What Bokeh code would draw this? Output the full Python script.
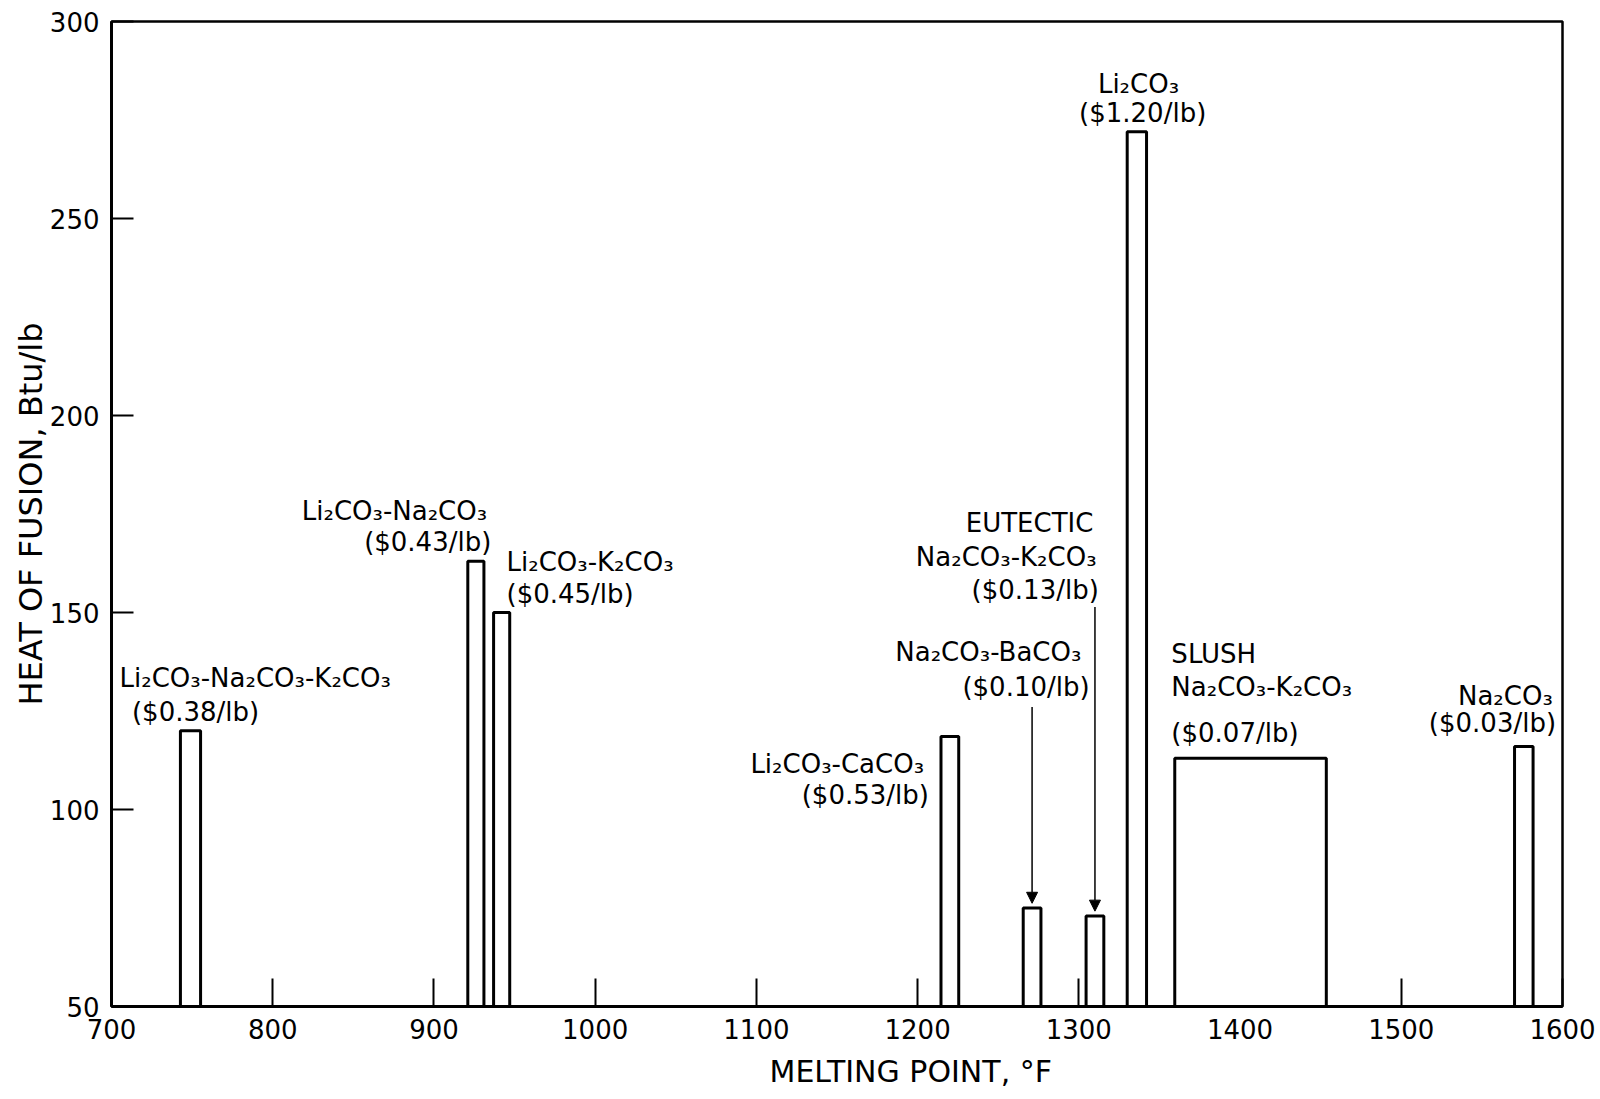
from bokeh.core.properties import value
from bokeh.embed import file_html
from bokeh.models import Arrow, ColumnDataSource, FixedTicker, NormalHead, Range1d, Title
from bokeh.plotting import figure
from bokeh.resources import INLINE

# ---- data: heat of fusion vs. melting point of carbonate salts ----
materials = [
    "Li₂CO₃-Na₂CO₃-K₂CO₃",
    "Li₂CO₃-Na₂CO₃",
    "Li₂CO₃-K₂CO₃",
    "Li₂CO₃-CaCO₃",
    "Na₂CO₃-BaCO₃",
    "EUTECTIC Na₂CO₃-K₂CO₃",
    "Li₂CO₃",
    "SLUSH Na₂CO₃-K₂CO₃",
    "Na₂CO₃",
]
melting_point_f = [749, 926, 942, 1220, 1271, 1310, 1336, 1406.5, 1576]
melting_span_f = [12.5, 10, 10, 11, 11, 11, 12, 94, 11.5]
heat_of_fusion = [120, 163, 150, 118.5, 75, 73, 272, 113, 116]
cost_per_lb = ["$0.38/lb", "$0.43/lb", "$0.45/lb", "$0.53/lb", "$0.10/lb",
               "$0.13/lb", "$1.20/lb", "$0.07/lb", "$0.03/lb"]

x_ticks = [700, 800, 900, 1000, 1100, 1200, 1300, 1400, 1500, 1600]
y_ticks = [50, 100, 150, 200, 250, 300]

FONT = "DejaVu Sans"
BASE = 50

p = figure(
    width=1600, height=1099,
    x_range=Range1d(700, 1600), y_range=Range1d(BASE, 300),
    output_backend="svg", toolbar_location=None,
    min_border_left=111, min_border_right=38,
    min_border_top=21, min_border_bottom=93,
    background_fill_color="white", border_fill_color="white",
)
p.grid.visible = False
p.outline_line_color = "black"
p.outline_line_width = 2.5

for ax, tick_len in ((p.xaxis[0], 28), (p.yaxis[0], 22)):
    ax.axis_line_width = 3
    ax.axis_line_color = "black"
    ax.major_tick_in = tick_len
    ax.major_tick_out = 0
    ax.major_tick_line_width = 2
    ax.major_tick_line_color = "black"
    ax.minor_tick_in = 0
    ax.minor_tick_out = 0
    ax.major_label_text_font = FONT
    ax.major_label_text_font_size = "26px"
    ax.major_label_text_color = "black"
    ax.major_label_standoff = 12

p.xaxis.ticker = FixedTicker(ticks=x_ticks)
p.yaxis.ticker = FixedTicker(ticks=y_ticks)

# y axis title, rotated along the axis
p.yaxis.axis_label = "HEAT OF FUSION, Btu/lb"
p.yaxis.axis_label_text_font = FONT
p.yaxis.axis_label_text_font_size = "32px"
p.yaxis.axis_label_text_font_style = "normal"
p.yaxis.axis_label_text_color = "black"
p.yaxis.axis_label_standoff = -3

# x axis title, set a little right of the frame centre
p.add_layout(Title(text="MELTING POINT, °F", align="left", offset=658,
                   text_font=FONT, text_font_size="30px", text_font_style="normal",
                   text_color="black", standoff=21), "below")

# open bars rising from the 50 Btu/lb baseline, drawn above the tick marks
p.vbar(x=melting_point_f, width=melting_span_f, bottom=BASE, top=heat_of_fusion,
       fill_color="white", line_color="black", line_width=3, level="overlay")

# ---- callouts ----
def label_lines(i):
    name = materials[i]
    cost = f"({cost_per_lb[i]})"
    if name.startswith("EUTECTIC ") or name.startswith("SLUSH "):
        head, rest = name.split(" ", 1)
        return [head, rest, cost]
    return [name, cost]

placements = {
    0: ([705, 712.7], [133.5, 124.7], "left"),
    1: ([933, 935.6], [175.8, 167.8], "right"),
    2: ([945, 945], [162.8, 154.8], "left"),
    3: ([1204, 1207], [111.5, 103.7], "right"),
    4: ([1301.6, 1306.7], [140, 131], "right"),
    5: ([1309, 1311, 1312.4], [172.7, 164.1, 155.8], "right"),
    6: ([1337, 1339.6], [284.2, 276.7], "center"),
    7: ([1357.4, 1357.4, 1357.4], [139.5, 131.2, 119.3], "left"),
    8: ([1594, 1596], [128.9, 121.9], "right"),
}

groups = {"left": dict(x=[], y=[], t=[]), "right": dict(x=[], y=[], t=[]),
          "center": dict(x=[], y=[], t=[])}
for i, (xs, ys, align) in placements.items():
    for line, xx, yy in zip(label_lines(i), xs, ys):
        groups[align]["x"].append(xx)
        groups[align]["y"].append(yy)
        groups[align]["t"].append(line)

for align, g in groups.items():
    src = ColumnDataSource(dict(x=g["x"], y=g["y"], text=g["t"]))
    p.text(x="x", y="y", text="text", source=src, text_align=align,
           text_baseline="middle", text_font=value(FONT),
           text_font_size="26px", text_color="black")

# arrows from the two callouts down to their short bars
for i, y_from in ((4, 126), (5, 151.4)):
    p.add_layout(Arrow(
        end=NormalHead(size=11, fill_color="black", line_color="black", line_width=1),
        x_start=melting_point_f[i], y_start=y_from,
        x_end=melting_point_f[i], y_end=heat_of_fusion[i] + 1.2,
        line_color="black", line_width=1.5,
    ))

open("out.html", "w").write(file_html(p, INLINE))
